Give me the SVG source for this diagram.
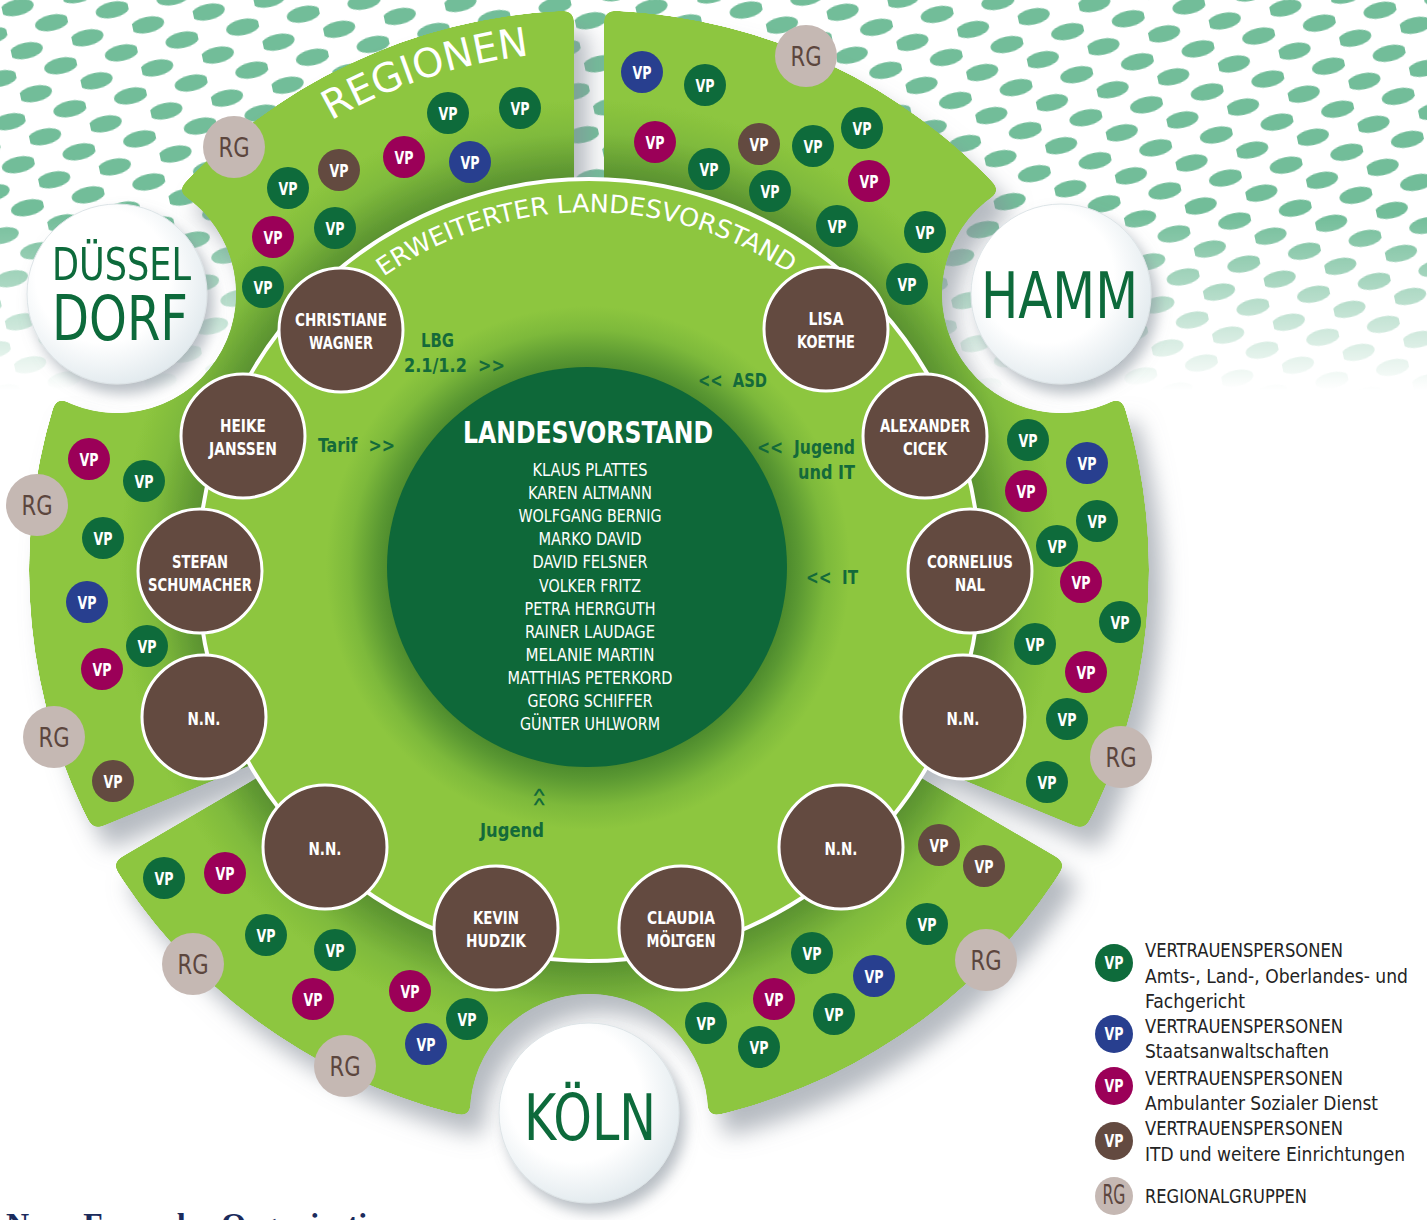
<svg xmlns="http://www.w3.org/2000/svg" width="1427" height="1220" viewBox="0 0 1427 1220">
<style>
text{font-family:"DejaVu Sans Condensed","Liberation Sans Narrow","Roboto","DejaVu Sans",sans-serif;}
.vp{fill:#fff;font-size:17.5px;font-weight:bold;text-anchor:middle}
.rg{fill:#5c463e;font-size:26px;text-anchor:middle}
.c-dg{fill:#0e6b3b}
.c-bl{fill:#283f8f}
.c-mg{fill:#9b0058}
.c-br{fill:#634a40}
.c-rg{fill:#c5b8b3}
.big{fill:#634a40;stroke:#fff;stroke-width:3}
.nl{fill:#fff;font-size:18px;font-weight:bold;text-anchor:middle}
.cn{fill:#fff;font-size:18px;text-anchor:middle}
.lab{fill:#146a3a;font-size:20px;font-weight:bold}
.city{fill:#0d6b3b;text-anchor:middle}
.lg{fill:#232323;font-size:19px}
.arc{fill:#fff}
.cityc{fill:url(#cityGrad);stroke:#dde4e7;stroke-width:1}
.head{font-family:"Liberation Serif","DejaVu Serif",serif;font-weight:bold;font-size:32px;fill:#1b2b5c}
</style>
<defs>
<pattern id="dots" patternUnits="userSpaceOnUse" width="62" height="44" patternTransform="rotate(-12)">
<ellipse cx="15" cy="11" rx="17" ry="8" fill="#72bd99"/>
<ellipse cx="46" cy="33" rx="17" ry="8" fill="#72bd99"/>
</pattern>
<linearGradient id="fadeG" gradientUnits="userSpaceOnUse" x1="0" y1="0" x2="0" y2="390">
<stop offset="0" stop-color="#fff"/>
<stop offset="0.55" stop-color="#fff"/>
<stop offset="1" stop-color="#000"/>
</linearGradient>
<mask id="dotMask" maskUnits="userSpaceOnUse" x="0" y="0" width="1427" height="400">
<rect x="0" y="0" width="1427" height="400" fill="url(#fadeG)"/>
</mask>
<radialGradient id="secGrad" gradientUnits="userSpaceOnUse" cx="589" cy="570" r="560">
<stop offset="0.69" stop-color="#568d2d"/>
<stop offset="0.72" stop-color="#629b33"/>
<stop offset="0.78" stop-color="#7fba3c"/>
<stop offset="0.84" stop-color="#8dc63f"/>
<stop offset="1" stop-color="#8dc63f"/>
</radialGradient>
<radialGradient id="discGrad" gradientUnits="userSpaceOnUse" cx="588" cy="568" r="391">
<stop offset="0.5" stop-color="#4a882c"/>
<stop offset="0.54" stop-color="#5a9832"/>
<stop offset="0.61" stop-color="#7db93b"/>
<stop offset="0.67" stop-color="#8dc63f"/>
<stop offset="1" stop-color="#8dc63f"/>
</radialGradient>
<radialGradient id="cityGrad" cx="0.42" cy="0.4" r="0.62">
<stop offset="0.6" stop-color="#ffffff"/>
<stop offset="1" stop-color="#e2eaee"/>
</radialGradient>
<mask id="secMask" maskUnits="userSpaceOnUse" x="0" y="0" width="1427" height="1220">
<rect x="0" y="0" width="1427" height="1220" fill="#000"/>
<circle cx="589" cy="570" r="560" fill="#fff"/>
<rect x="574" y="0" width="30" height="220" fill="#000"/>
<polygon points="30,856 256,763 260,776 72,886" fill="#000"/>
<polygon points="1148,856 922,763 918,776 1106,886" fill="#000"/>
<circle cx="117" cy="294" r="119" fill="#000"/>
<circle cx="1061" cy="294" r="119" fill="#000"/>
<circle cx="589" cy="1113" r="119" fill="#000"/>
</mask>
<filter id="roundF" filterUnits="userSpaceOnUse" x="0" y="0" width="1427" height="1220">
<feGaussianBlur in="SourceAlpha" stdDeviation="6" result="bl"/>
<feComponentTransfer in="bl" result="th"><feFuncA type="linear" slope="25" intercept="-12"/></feComponentTransfer>
<feComposite in="SourceGraphic" in2="th" operator="in"/>
</filter>
<filter id="secShadow" filterUnits="userSpaceOnUse" x="0" y="0" width="1427" height="1220">
<feGaussianBlur in="SourceAlpha" stdDeviation="11"/>
<feOffset dx="14" dy="20" result="b"/>
<feFlood flood-color="#858d98" flood-opacity="0.6"/>
<feComposite in2="b" operator="in"/>
<feMerge><feMergeNode/><feMergeNode in="SourceGraphic"/></feMerge>
</filter>
<filter id="cityShadow" x="-30%" y="-30%" width="160%" height="160%">
<feGaussianBlur in="SourceAlpha" stdDeviation="7"/>
<feOffset dx="6" dy="9" result="b"/>
<feFlood flood-color="#7d8893" flood-opacity="0.55"/>
<feComposite in2="b" operator="in"/>
<feMerge><feMergeNode/><feMergeNode in="SourceGraphic"/></feMerge>
</filter>
<path id="arcE" d="M 349.5,304 A 358 358 0 0 1 828.5,304"/>
<path id="arcR" d="M 102.2,392.8 A 518 518 0 0 1 766.2,83.2"/>
</defs>

<rect x="0" y="0" width="1427" height="1220" fill="#fff"/>
<rect x="0" y="0" width="1427" height="400" fill="url(#dots)" mask="url(#dotMask)"/>

<g id="sectors" filter="url(#secShadow)">
<g filter="url(#roundF)">
<circle cx="589" cy="570" r="560" fill="url(#secGrad)" mask="url(#secMask)"/>
</g>
</g>

<circle id="inner-disc" cx="589" cy="570" r="391" fill="url(#discGrad)"/>

<g id="connectors">
<circle cx="589" cy="570" r="391" fill="none" stroke="#fff" stroke-width="4"/>
</g>

<g id="landesvorstand">
<circle cx="587" cy="567" r="200" fill="#0e6839"/>
<text x="588" y="443" fill="#fff" font-size="30" font-weight="bold" text-anchor="middle" textLength="250" lengthAdjust="spacingAndGlyphs">LANDESVORSTAND</text>
<text class="cn" x="590" y="476" textLength="115" lengthAdjust="spacingAndGlyphs">KLAUS PLATTES</text>
<text class="cn" x="590" y="499" textLength="124" lengthAdjust="spacingAndGlyphs">KAREN ALTMANN</text>
<text class="cn" x="590" y="522" textLength="143" lengthAdjust="spacingAndGlyphs">WOLFGANG BERNIG</text>
<text class="cn" x="590" y="545" textLength="103" lengthAdjust="spacingAndGlyphs">MARKO DAVID</text>
<text class="cn" x="590" y="568" textLength="115" lengthAdjust="spacingAndGlyphs">DAVID FELSNER</text>
<text class="cn" x="590" y="592" textLength="102" lengthAdjust="spacingAndGlyphs">VOLKER FRITZ</text>
<text class="cn" x="590" y="615" textLength="131" lengthAdjust="spacingAndGlyphs">PETRA HERRGUTH</text>
<text class="cn" x="590" y="638" textLength="130" lengthAdjust="spacingAndGlyphs">RAINER LAUDAGE</text>
<text class="cn" x="590" y="661" textLength="129" lengthAdjust="spacingAndGlyphs">MELANIE MARTIN</text>
<text class="cn" x="590" y="684" textLength="165" lengthAdjust="spacingAndGlyphs">MATTHIAS PETERKORD</text>
<text class="cn" x="590" y="707" textLength="125" lengthAdjust="spacingAndGlyphs">GEORG SCHIFFER</text>
<text class="cn" x="590" y="730" textLength="140" lengthAdjust="spacingAndGlyphs">GÜNTER UHLWORM</text>
</g>

<text class="arc" font-size="25"><textPath href="#arcE" startOffset="43.7" textLength="431" lengthAdjust="spacingAndGlyphs">ERWEITERTER LANDESVORSTAND</textPath></text>
<text class="arc" font-size="40"><textPath href="#arcR" startOffset="363" textLength="210" lengthAdjust="spacingAndGlyphs">REGIONEN</textPath></text>

<g id="n-christiane"><circle class="big" cx="341" cy="330" r="62"/><text class="nl" x="341" y="326" textLength="92" lengthAdjust="spacingAndGlyphs">CHRISTIANE</text><text class="nl" x="341" y="349" textLength="64" lengthAdjust="spacingAndGlyphs">WAGNER</text></g>
<g id="n-heike"><circle class="big" cx="243" cy="436" r="62"/><text class="nl" x="243" y="432" textLength="46" lengthAdjust="spacingAndGlyphs">HEIKE</text><text class="nl" x="243" y="455" textLength="68" lengthAdjust="spacingAndGlyphs">JANSSEN</text></g>
<g id="n-stefan"><circle class="big" cx="200" cy="571" r="62"/><text class="nl" x="200" y="568" textLength="56" lengthAdjust="spacingAndGlyphs">STEFAN</text><text class="nl" x="200" y="591" textLength="104" lengthAdjust="spacingAndGlyphs">SCHUMACHER</text></g>
<g id="n-nn1"><circle class="big" cx="204" cy="717" r="62"/><text class="nl" x="204" y="725" textLength="33" lengthAdjust="spacingAndGlyphs">N.N.</text></g>
<g id="n-nn2"><circle class="big" cx="325" cy="847" r="62"/><text class="nl" x="325" y="855" textLength="33" lengthAdjust="spacingAndGlyphs">N.N.</text></g>
<g id="n-kevin"><circle class="big" cx="496" cy="928" r="62"/><text class="nl" x="496" y="924" textLength="46" lengthAdjust="spacingAndGlyphs">KEVIN</text><text class="nl" x="496" y="947" textLength="60" lengthAdjust="spacingAndGlyphs">HUDZIK</text></g>
<g id="n-claudia"><circle class="big" cx="681" cy="928" r="62"/><text class="nl" x="681" y="924" textLength="68" lengthAdjust="spacingAndGlyphs">CLAUDIA</text><text class="nl" x="681" y="947" textLength="69" lengthAdjust="spacingAndGlyphs">MÖLTGEN</text></g>
<g id="n-nn3"><circle class="big" cx="841" cy="847" r="62"/><text class="nl" x="841" y="855" textLength="33" lengthAdjust="spacingAndGlyphs">N.N.</text></g>
<g id="n-nn4"><circle class="big" cx="963" cy="717" r="62"/><text class="nl" x="963" y="725" textLength="33" lengthAdjust="spacingAndGlyphs">N.N.</text></g>
<g id="n-cornelius"><circle class="big" cx="970" cy="571" r="62"/><text class="nl" x="970" y="568" textLength="86" lengthAdjust="spacingAndGlyphs">CORNELIUS</text><text class="nl" x="970" y="591" textLength="30" lengthAdjust="spacingAndGlyphs">NAL</text></g>
<g id="n-alexander"><circle class="big" cx="925" cy="436" r="62"/><text class="nl" x="925" y="432" textLength="90" lengthAdjust="spacingAndGlyphs">ALEXANDER</text><text class="nl" x="925" y="455" textLength="44" lengthAdjust="spacingAndGlyphs">CICEK</text></g>
<g id="n-lisa"><circle class="big" cx="826" cy="329" r="62"/><text class="nl" x="826" y="325" textLength="35" lengthAdjust="spacingAndGlyphs">LISA</text><text class="nl" x="826" y="348" textLength="58" lengthAdjust="spacingAndGlyphs">KOETHE</text></g>

<!-- top-left sector -->
<g id="rg-tl" transform="translate(234,147)"><circle r="31" class="c-rg"/><text class="rg" y="9.5" textLength="31" lengthAdjust="spacingAndGlyphs">RG</text></g>
<g id="vp-tl-1" transform="translate(288,188)"><circle r="21" class="c-dg"/><text class="vp" y="6.5" textLength="19" lengthAdjust="spacingAndGlyphs">VP</text></g>
<g id="vp-tl-2" transform="translate(339,170)"><circle r="21" class="c-br"/><text class="vp" y="6.5" textLength="19" lengthAdjust="spacingAndGlyphs">VP</text></g>
<g id="vp-tl-3" transform="translate(404,157)"><circle r="21" class="c-mg"/><text class="vp" y="6.5" textLength="19" lengthAdjust="spacingAndGlyphs">VP</text></g>
<g id="vp-tl-4" transform="translate(470,162)"><circle r="21" class="c-bl"/><text class="vp" y="6.5" textLength="19" lengthAdjust="spacingAndGlyphs">VP</text></g>
<g id="vp-tl-5" transform="translate(448,113)"><circle r="21" class="c-dg"/><text class="vp" y="6.5" textLength="19" lengthAdjust="spacingAndGlyphs">VP</text></g>
<g id="vp-tl-6" transform="translate(520,108)"><circle r="21" class="c-dg"/><text class="vp" y="6.5" textLength="19" lengthAdjust="spacingAndGlyphs">VP</text></g>
<g id="vp-tl-7" transform="translate(273,237)"><circle r="21" class="c-mg"/><text class="vp" y="6.5" textLength="19" lengthAdjust="spacingAndGlyphs">VP</text></g>
<g id="vp-tl-8" transform="translate(335,228)"><circle r="21" class="c-dg"/><text class="vp" y="6.5" textLength="19" lengthAdjust="spacingAndGlyphs">VP</text></g>
<g id="vp-tl-9" transform="translate(263,287)"><circle r="21" class="c-dg"/><text class="vp" y="6.5" textLength="19" lengthAdjust="spacingAndGlyphs">VP</text></g>

<!-- top-right sector -->
<g id="rg-tr" transform="translate(806,56)"><circle r="31" class="c-rg"/><text class="rg" y="9.5" textLength="31" lengthAdjust="spacingAndGlyphs">RG</text></g>
<g id="vp-tr-1" transform="translate(642,72)"><circle r="21" class="c-bl"/><text class="vp" y="6.5" textLength="19" lengthAdjust="spacingAndGlyphs">VP</text></g>
<g id="vp-tr-2" transform="translate(705,85)"><circle r="21" class="c-dg"/><text class="vp" y="6.5" textLength="19" lengthAdjust="spacingAndGlyphs">VP</text></g>
<g id="vp-tr-3" transform="translate(655,142)"><circle r="21" class="c-mg"/><text class="vp" y="6.5" textLength="19" lengthAdjust="spacingAndGlyphs">VP</text></g>
<g id="vp-tr-4" transform="translate(759,144)"><circle r="21" class="c-br"/><text class="vp" y="6.5" textLength="19" lengthAdjust="spacingAndGlyphs">VP</text></g>
<g id="vp-tr-5" transform="translate(813,146)"><circle r="21" class="c-dg"/><text class="vp" y="6.5" textLength="19" lengthAdjust="spacingAndGlyphs">VP</text></g>
<g id="vp-tr-6" transform="translate(862,128)"><circle r="21" class="c-dg"/><text class="vp" y="6.5" textLength="19" lengthAdjust="spacingAndGlyphs">VP</text></g>
<g id="vp-tr-7" transform="translate(709,169)"><circle r="21" class="c-dg"/><text class="vp" y="6.5" textLength="19" lengthAdjust="spacingAndGlyphs">VP</text></g>
<g id="vp-tr-8" transform="translate(770,191)"><circle r="21" class="c-dg"/><text class="vp" y="6.5" textLength="19" lengthAdjust="spacingAndGlyphs">VP</text></g>
<g id="vp-tr-9" transform="translate(869,181)"><circle r="21" class="c-mg"/><text class="vp" y="6.5" textLength="19" lengthAdjust="spacingAndGlyphs">VP</text></g>
<g id="vp-tr-10" transform="translate(837,226)"><circle r="21" class="c-dg"/><text class="vp" y="6.5" textLength="19" lengthAdjust="spacingAndGlyphs">VP</text></g>
<g id="vp-tr-11" transform="translate(925,232)"><circle r="21" class="c-dg"/><text class="vp" y="6.5" textLength="19" lengthAdjust="spacingAndGlyphs">VP</text></g>
<g id="vp-tr-12" transform="translate(907,284)"><circle r="21" class="c-dg"/><text class="vp" y="6.5" textLength="19" lengthAdjust="spacingAndGlyphs">VP</text></g>

<!-- left sector -->
<g id="vp-l-1" transform="translate(89,459)"><circle r="21" class="c-mg"/><text class="vp" y="6.5" textLength="19" lengthAdjust="spacingAndGlyphs">VP</text></g>
<g id="vp-l-2" transform="translate(144,481)"><circle r="21" class="c-dg"/><text class="vp" y="6.5" textLength="19" lengthAdjust="spacingAndGlyphs">VP</text></g>
<g id="rg-l-1" transform="translate(37,505)"><circle r="31" class="c-rg"/><text class="rg" y="9.5" textLength="31" lengthAdjust="spacingAndGlyphs">RG</text></g>
<g id="vp-l-3" transform="translate(103,538)"><circle r="21" class="c-dg"/><text class="vp" y="6.5" textLength="19" lengthAdjust="spacingAndGlyphs">VP</text></g>
<g id="vp-l-4" transform="translate(87,602)"><circle r="21" class="c-bl"/><text class="vp" y="6.5" textLength="19" lengthAdjust="spacingAndGlyphs">VP</text></g>
<g id="vp-l-5" transform="translate(147,646)"><circle r="21" class="c-dg"/><text class="vp" y="6.5" textLength="19" lengthAdjust="spacingAndGlyphs">VP</text></g>
<g id="vp-l-6" transform="translate(102,669)"><circle r="21" class="c-mg"/><text class="vp" y="6.5" textLength="19" lengthAdjust="spacingAndGlyphs">VP</text></g>
<g id="rg-l-2" transform="translate(54,737)"><circle r="31" class="c-rg"/><text class="rg" y="9.5" textLength="31" lengthAdjust="spacingAndGlyphs">RG</text></g>
<g id="vp-l-7" transform="translate(113,781)"><circle r="21" class="c-br"/><text class="vp" y="6.5" textLength="19" lengthAdjust="spacingAndGlyphs">VP</text></g>

<!-- right sector -->
<g id="vp-r-1" transform="translate(1028,440)"><circle r="21" class="c-dg"/><text class="vp" y="6.5" textLength="19" lengthAdjust="spacingAndGlyphs">VP</text></g>
<g id="vp-r-2" transform="translate(1087,463)"><circle r="21" class="c-bl"/><text class="vp" y="6.5" textLength="19" lengthAdjust="spacingAndGlyphs">VP</text></g>
<g id="vp-r-3" transform="translate(1026,491)"><circle r="21" class="c-mg"/><text class="vp" y="6.5" textLength="19" lengthAdjust="spacingAndGlyphs">VP</text></g>
<g id="vp-r-4" transform="translate(1097,521)"><circle r="21" class="c-dg"/><text class="vp" y="6.5" textLength="19" lengthAdjust="spacingAndGlyphs">VP</text></g>
<g id="vp-r-5" transform="translate(1057,546)"><circle r="21" class="c-dg"/><text class="vp" y="6.5" textLength="19" lengthAdjust="spacingAndGlyphs">VP</text></g>
<g id="vp-r-6" transform="translate(1081,582)"><circle r="21" class="c-mg"/><text class="vp" y="6.5" textLength="19" lengthAdjust="spacingAndGlyphs">VP</text></g>
<g id="vp-r-7" transform="translate(1120,622)"><circle r="21" class="c-dg"/><text class="vp" y="6.5" textLength="19" lengthAdjust="spacingAndGlyphs">VP</text></g>
<g id="vp-r-8" transform="translate(1035,644)"><circle r="21" class="c-dg"/><text class="vp" y="6.5" textLength="19" lengthAdjust="spacingAndGlyphs">VP</text></g>
<g id="vp-r-9" transform="translate(1086,672)"><circle r="21" class="c-mg"/><text class="vp" y="6.5" textLength="19" lengthAdjust="spacingAndGlyphs">VP</text></g>
<g id="vp-r-10" transform="translate(1067,719)"><circle r="21" class="c-dg"/><text class="vp" y="6.5" textLength="19" lengthAdjust="spacingAndGlyphs">VP</text></g>
<g id="rg-r" transform="translate(1121,757)"><circle r="31" class="c-rg"/><text class="rg" y="9.5" textLength="31" lengthAdjust="spacingAndGlyphs">RG</text></g>
<g id="vp-r-11" transform="translate(1047,782)"><circle r="21" class="c-dg"/><text class="vp" y="6.5" textLength="19" lengthAdjust="spacingAndGlyphs">VP</text></g>

<!-- bottom-left sector -->
<g id="vp-bl-1" transform="translate(164,878)"><circle r="21" class="c-dg"/><text class="vp" y="6.5" textLength="19" lengthAdjust="spacingAndGlyphs">VP</text></g>
<g id="vp-bl-2" transform="translate(225,873)"><circle r="21" class="c-mg"/><text class="vp" y="6.5" textLength="19" lengthAdjust="spacingAndGlyphs">VP</text></g>
<g id="vp-bl-3" transform="translate(266,935)"><circle r="21" class="c-dg"/><text class="vp" y="6.5" textLength="19" lengthAdjust="spacingAndGlyphs">VP</text></g>
<g id="vp-bl-4" transform="translate(335,950)"><circle r="21" class="c-dg"/><text class="vp" y="6.5" textLength="19" lengthAdjust="spacingAndGlyphs">VP</text></g>
<g id="rg-bl-1" transform="translate(193,964)"><circle r="31" class="c-rg"/><text class="rg" y="9.5" textLength="31" lengthAdjust="spacingAndGlyphs">RG</text></g>
<g id="vp-bl-5" transform="translate(313,999)"><circle r="21" class="c-mg"/><text class="vp" y="6.5" textLength="19" lengthAdjust="spacingAndGlyphs">VP</text></g>
<g id="vp-bl-6" transform="translate(410,991)"><circle r="21" class="c-mg"/><text class="vp" y="6.5" textLength="19" lengthAdjust="spacingAndGlyphs">VP</text></g>
<g id="vp-bl-7" transform="translate(467,1019)"><circle r="21" class="c-dg"/><text class="vp" y="6.5" textLength="19" lengthAdjust="spacingAndGlyphs">VP</text></g>
<g id="vp-bl-8" transform="translate(426,1044)"><circle r="21" class="c-bl"/><text class="vp" y="6.5" textLength="19" lengthAdjust="spacingAndGlyphs">VP</text></g>
<g id="rg-bl-2" transform="translate(345,1066)"><circle r="31" class="c-rg"/><text class="rg" y="9.5" textLength="31" lengthAdjust="spacingAndGlyphs">RG</text></g>

<!-- bottom-right sector -->
<g id="vp-br-1" transform="translate(939,845)"><circle r="21" class="c-br"/><text class="vp" y="6.5" textLength="19" lengthAdjust="spacingAndGlyphs">VP</text></g>
<g id="vp-br-2" transform="translate(984,866)"><circle r="21" class="c-br"/><text class="vp" y="6.5" textLength="19" lengthAdjust="spacingAndGlyphs">VP</text></g>
<g id="vp-br-3" transform="translate(927,924)"><circle r="21" class="c-dg"/><text class="vp" y="6.5" textLength="19" lengthAdjust="spacingAndGlyphs">VP</text></g>
<g id="rg-br" transform="translate(986,960)"><circle r="31" class="c-rg"/><text class="rg" y="9.5" textLength="31" lengthAdjust="spacingAndGlyphs">RG</text></g>
<g id="vp-br-4" transform="translate(812,953)"><circle r="21" class="c-dg"/><text class="vp" y="6.5" textLength="19" lengthAdjust="spacingAndGlyphs">VP</text></g>
<g id="vp-br-5" transform="translate(874,976)"><circle r="21" class="c-bl"/><text class="vp" y="6.5" textLength="19" lengthAdjust="spacingAndGlyphs">VP</text></g>
<g id="vp-br-6" transform="translate(774,999)"><circle r="21" class="c-mg"/><text class="vp" y="6.5" textLength="19" lengthAdjust="spacingAndGlyphs">VP</text></g>
<g id="vp-br-7" transform="translate(834,1014)"><circle r="21" class="c-dg"/><text class="vp" y="6.5" textLength="19" lengthAdjust="spacingAndGlyphs">VP</text></g>
<g id="vp-br-8" transform="translate(706,1023)"><circle r="21" class="c-dg"/><text class="vp" y="6.5" textLength="19" lengthAdjust="spacingAndGlyphs">VP</text></g>
<g id="vp-br-9" transform="translate(759,1047)"><circle r="21" class="c-dg"/><text class="vp" y="6.5" textLength="19" lengthAdjust="spacingAndGlyphs">VP</text></g>

<!-- cities -->
<g id="city-duesseldorf" filter="url(#cityShadow)"><circle class="cityc" cx="117" cy="294" r="90"/>
<text class="city" x="121.5" y="280" font-size="44" textLength="139" lengthAdjust="spacingAndGlyphs">DÜSSEL</text>
<text class="city" x="120" y="340" font-size="62" textLength="136" lengthAdjust="spacingAndGlyphs">DORF</text></g>
<g id="city-hamm" filter="url(#cityShadow)"><circle class="cityc" cx="1061" cy="294" r="90"/>
<text class="city" x="1059.5" y="318" font-size="64" textLength="157" lengthAdjust="spacingAndGlyphs">HAMM</text></g>
<g id="city-koeln" filter="url(#cityShadow)"><circle class="cityc" cx="589" cy="1113" r="90"/>
<text class="city" x="590" y="1140" font-size="64" textLength="132" lengthAdjust="spacingAndGlyphs">KÖLN</text></g>

<!-- labels -->
<g id="labels">
<text class="lab" x="421" y="347" textLength="33" lengthAdjust="spacingAndGlyphs">LBG</text>
<text class="lab" x="404" y="372" xml:space="preserve" textLength="101" lengthAdjust="spacingAndGlyphs">2.1/1.2  &gt;&gt;</text>
<text class="lab" x="698" y="387" xml:space="preserve" textLength="69" lengthAdjust="spacingAndGlyphs">&lt;&lt;  ASD</text>
<text class="lab" x="318" y="452" xml:space="preserve" textLength="77" lengthAdjust="spacingAndGlyphs">Tarif  &gt;&gt;</text>
<text class="lab" x="757" y="454" xml:space="preserve" textLength="98" lengthAdjust="spacingAndGlyphs">&lt;&lt;  Jugend</text>
<text class="lab" x="798" y="479" textLength="57" lengthAdjust="spacingAndGlyphs">und IT</text>
<text class="lab" x="806" y="584" xml:space="preserve" textLength="52" lengthAdjust="spacingAndGlyphs">&lt;&lt;  IT</text>
<text class="lab" transform="translate(540,797) rotate(90)" x="0" y="7" text-anchor="middle" textLength="19" lengthAdjust="spacingAndGlyphs">&lt;&lt;</text>
<text class="lab" x="480" y="837" textLength="64" lengthAdjust="spacingAndGlyphs">Jugend</text>
</g>

<!-- legend -->
<g id="legend">
<g id="lg-dg" transform="translate(1114,963)"><circle r="19" class="c-dg"/><text class="vp" y="6" font-size="16" textLength="19" lengthAdjust="spacingAndGlyphs">VP</text></g>
<g id="lg-bl" transform="translate(1114,1034)"><circle r="19" class="c-bl"/><text class="vp" y="6" font-size="16" textLength="19" lengthAdjust="spacingAndGlyphs">VP</text></g>
<g id="lg-mg" transform="translate(1114,1086)"><circle r="19" class="c-mg"/><text class="vp" y="6" font-size="16" textLength="19" lengthAdjust="spacingAndGlyphs">VP</text></g>
<g id="lg-br" transform="translate(1114,1141)"><circle r="19" class="c-br"/><text class="vp" y="6" font-size="16" textLength="19" lengthAdjust="spacingAndGlyphs">VP</text></g>
<g id="lg-rg" transform="translate(1114,1196)"><circle r="19" class="c-rg"/><text class="rg" y="8" font-size="22" textLength="23" lengthAdjust="spacingAndGlyphs">RG</text></g>
<text class="lg" x="1145" y="957" textLength="198" lengthAdjust="spacingAndGlyphs">VERTRAUENSPERSONEN</text>
<text class="lg" x="1145" y="983" textLength="263" lengthAdjust="spacingAndGlyphs">Amts-, Land-, Oberlandes- und</text>
<text class="lg" x="1145" y="1008" textLength="100" lengthAdjust="spacingAndGlyphs">Fachgericht</text>
<text class="lg" x="1145" y="1033" textLength="198" lengthAdjust="spacingAndGlyphs">VERTRAUENSPERSONEN</text>
<text class="lg" x="1145" y="1058" textLength="184" lengthAdjust="spacingAndGlyphs">Staatsanwaltschaften</text>
<text class="lg" x="1145" y="1085" textLength="198" lengthAdjust="spacingAndGlyphs">VERTRAUENSPERSONEN</text>
<text class="lg" x="1145" y="1110" textLength="233" lengthAdjust="spacingAndGlyphs">Ambulanter Sozialer Dienst</text>
<text class="lg" x="1145" y="1135" textLength="198" lengthAdjust="spacingAndGlyphs">VERTRAUENSPERSONEN</text>
<text class="lg" x="1145" y="1161" textLength="260" lengthAdjust="spacingAndGlyphs">ITD und weitere Einrichtungen</text>
<text class="lg" x="1145" y="1203" textLength="162" lengthAdjust="spacingAndGlyphs">REGIONALGRUPPEN</text>
</g>

<text class="head" x="6" y="1235">Neue Form der Organisation</text>
</svg>
